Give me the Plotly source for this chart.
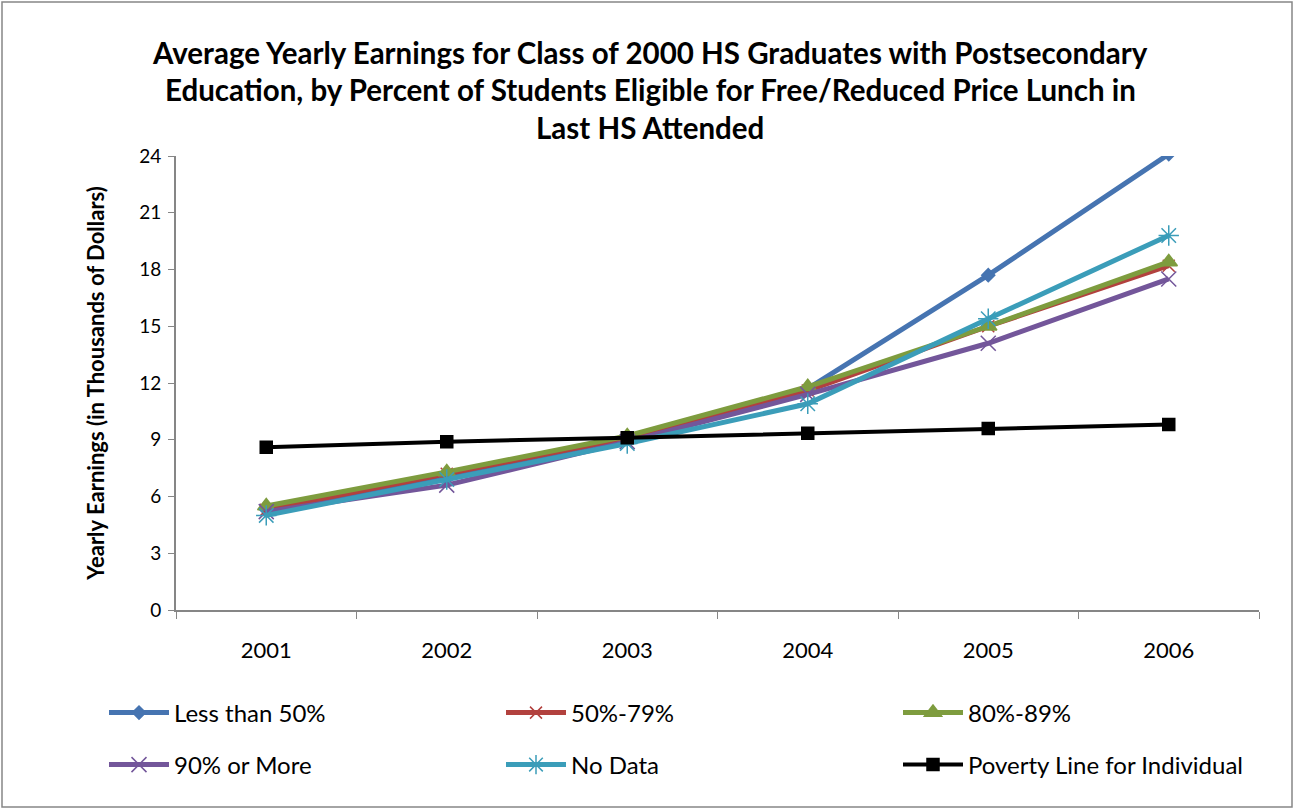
import plotly.graph_objects as go

years = ["2001", "2002", "2003", "2004", "2005", "2006"]
less_than_50 = [5.3, 7.0, 9.1, 11.7, 17.7, 24.1]
pct_50_79 = [5.3, 7.2, 9.1, 11.6, 15.0, 18.2]
pct_80_89 = [5.5, 7.3, 9.2, 11.8, 15.0, 18.4]
pct_90_more = [5.2, 6.6, 8.9, 11.4, 14.1, 17.5]
no_data = [5.0, 6.9, 8.8, 10.9, 15.4, 19.8]
poverty = [8.6, 8.9, 9.1, 9.35, 9.6, 9.8]

title_lines = [
    "Average Yearly Earnings for Class of 2000 HS Graduates with Postsecondary",
    "Education, by Percent of Students Eligible for Free/Reduced Price Lunch in",
    "Last HS Attended",
]

series = [
    ("Less than 50%", less_than_50, "#4674B1", "diamond", 10, 5, "legend"),
    ("50%-79%", pct_50_79, "#B2413E", "x-thin-open", 12, 5, "legend"),
    ("80%-89%", pct_80_89, "#7E9C3E", "triangle-up", 15, 5, "legend"),
    ("90% or More", pct_90_more, "#73569A", "x-thin-open", 15, 5, "legend2"),
    ("No Data", no_data, "#3B9DB9", "asterisk-open", 17, 5, "legend2"),
    ("Poverty Line for Individual", poverty, "#000000", "square", 12, 4, "legend2"),
]

fig = go.Figure()
for name, vals, color, sym, size, width, leg in series:
    fig.add_trace(go.Scatter(
        x=years, y=vals, name=name, mode="lines+markers", legend=leg,
        line=dict(color=color, width=width),
        marker=dict(symbol=sym, size=size, color=color,
                    line=dict(color=color, width=1.5)),
    ))

font_family = "Lato, 'Open Sans', sans-serif"
H = 454.0
W = 1083.0
leg_common = dict(
    orientation="h", xanchor="left", yanchor="middle",
    entrywidth=322, entrywidthmode="pixels", itemwidth=60,
    font=dict(family=font_family, size=24, color="black"),
    bgcolor="rgba(0,0,0,0)",
)
fig.update_layout(
    width=1295, height=809,
    margin=dict(l=176, r=36, t=156, b=199),
    paper_bgcolor="white", plot_bgcolor="white",
    font=dict(family=font_family, size=18, color="black"),
    showlegend=True,
    legend=dict(x=-0.0232, y=-(713 - 610) / H, **leg_common),
    legend2=dict(x=-0.0232, y=-(765 - 610) / H, **leg_common),
)
for i, line in enumerate(title_lines):
    yc = [52, 90, 128][i]
    fig.add_annotation(
        text="<b>" + line + "</b>", xref="paper", yref="paper",
        x=(650 - 176) / W, y=1 + (156 - yc) / H, xanchor="center", yanchor="middle",
        showarrow=False, font=dict(family=font_family, size=29.5, color="black"),
    )
fig.update_xaxes(
    type="category", tickson="boundaries", ticks="outside", ticklen=7,
    tickcolor="#868686", showline=True, linecolor="#868686", linewidth=2,
    showgrid=False, tickfont=dict(size=22), range=[-0.5, 5.5],
    ticklabelstandoff=20,
)
fig.update_yaxes(
    range=[0, 24], dtick=3, ticks="outside", ticklen=6, tickcolor="#868686",
    showline=True, linecolor="#868686", linewidth=2, showgrid=False,
    zeroline=False, tickfont=dict(size=19), ticklabelstandoff=3,
    title=dict(text="<b>Yearly Earnings (in Thousands of Dollars)</b>",
               font=dict(size=22), standoff=28),
)
# chart border
fig.add_shape(type="rect", xref="paper", yref="paper",
              x0=-174 / W, x1=1 + 33 / W, y0=-197 / H, y1=1 + 154 / H,
              line=dict(color="#868686", width=1.5))
fig.write_html("out.html", config={"displayModeBar": False},
               post_script="document.body.style.margin='0';")
